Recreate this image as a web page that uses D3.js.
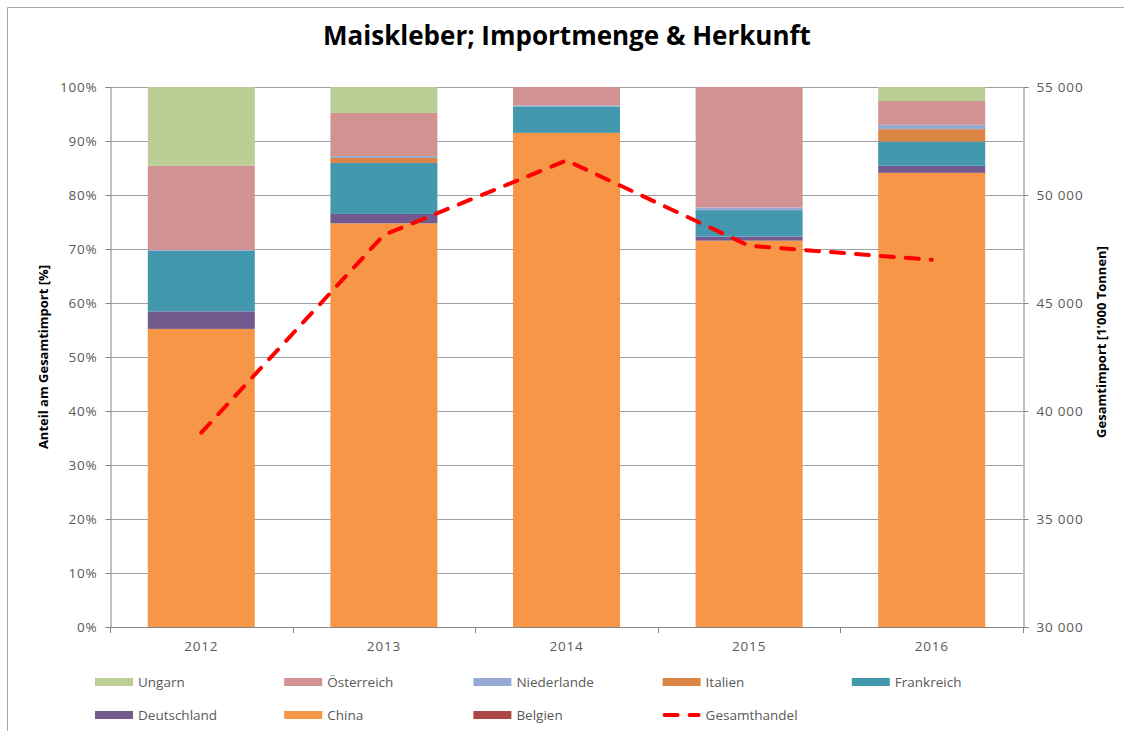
<!DOCTYPE html>
<html>
<head>
<meta charset="utf-8">
<script src="https://cdn.jsdelivr.net/npm/d3@7"></script>
<style>
  body { margin: 0; background: #fff; }
  svg text { font-family: "Open Sans", sans-serif; }
</style>
</head>
<body>
<svg id="chart" width="1124" height="731"></svg>
<script>
const years = ['2012', '2013', '2014', '2015', '2016'];

// stack order, bottom to top
const countries = ['Belgien', 'China', 'Deutschland', 'Frankreich', 'Italien', 'Niederlande', 'Österreich', 'Ungarn'];
const colors = ['#AA4644', '#F79646', '#725A8F', '#4398AE', '#DC8443', '#95A9D3', '#D39292', '#BACE96'];

// shares in %, one array per country, per year
const belgien     = [0, 0, 0, 0, 0];
const china       = [55.2, 74.75, 91.5, 71.55, 84.1];
const deutschland = [3.25, 1.75, 0, 0.75, 1.3];
const frankreich  = [11.2, 9.45, 4.9, 4.9, 4.5];
const italien     = [0, 0.9, 0, 0, 2.3];
const niederlande = [0.2, 0.35, 0.2, 0.5, 0.8];
const oesterreich = [15.55, 8.0, 3.4, 22.3, 4.4];
const ungarn      = [14.6, 4.8, 0, 0, 2.6];

// Gesamthandel in 1'000 Tonnen
const gesamthandel = [39000, 48150, 51600, 47650, 47000];

const pctTicks = [0, 10, 20, 30, 40, 50, 60, 70, 80, 90, 100];
const tonTicks = [30000, 35000, 40000, 45000, 50000, 55000];

const legendOrder = ['Ungarn', 'Österreich', 'Niederlande', 'Italien', 'Frankreich', 'Deutschland', 'China', 'Belgien', 'Gesamthandel'];

const shares = [belgien, china, deutschland, frankreich, italien, niederlande, oesterreich, ungarn];
const rows = years.map((y, i) => {
    const r = { year: y };
    countries.forEach((c, k) => r[c] = shares[k][i]);
    return r;
});

const svg = d3.select('#chart');
const plotLeft = 110, plotRight = 1023, plotTop = 87, plotBottom = 627;

// chart frame
svg.append('path')
    .attr('d', `M7.5,731 L7.5,7.5 L1124,7.5`)
    .attr('fill', 'none').attr('stroke', '#A6A6A6').attr('stroke-width', 1);

const xs = d3.scaleBand().domain(years).range([plotLeft, plotRight]).paddingInner(0.414).paddingOuter(0.207);
const xb = d3.scaleBand().domain(years).range([plotLeft, plotRight]);
const ys = d3.scaleLinear().domain([0, 100]).range([plotBottom, plotTop]);
const yr = d3.scaleLinear().domain([30000, 55000]).range([plotBottom, plotTop]);

// gridlines
svg.append('g')
    .selectAll('line')
    .data(pctTicks.slice(1))
    .enter()
    .append('line')
    .attr('x1', plotLeft).attr('x2', plotRight)
    .attr('y1', d => Math.round(ys(d)) + 0.5).attr('y2', d => Math.round(ys(d)) + 0.5)
    .attr('stroke', '#A0A0A0').attr('stroke-width', 1);

// stacked bars
const series = d3.stack().keys(countries)(rows);
svg.append('g')
    .selectAll('g')
    .data(series)
    .enter()
    .append('g')
    .attr('fill', (d, i) => colors[i])
    .selectAll('rect')
    .data(d => d)
    .enter()
    .append('rect')
    .attr('x', d => xs(d.data.year))
    .attr('width', xs.bandwidth())
    .attr('y', d => ys(d[1]))
    .attr('height', d => ys(d[0]) - ys(d[1]));

// left axis
const axL = svg.append('g').attr('transform', `translate(${plotLeft + 0.5},0)`)
    .call(d3.axisLeft(ys).tickValues(pctTicks).tickFormat(d => d + '%').tickSize(5).tickPadding(8));
// right axis
const axR = svg.append('g').attr('transform', `translate(${plotRight + 0.5},0)`)
    .call(d3.axisRight(yr).tickValues(tonTicks).tickFormat(d => d3.format(',')(d).replace(',', ' ')).tickSize(5).tickPadding(8));
// bottom axis
const axB = svg.append('g').attr('transform', `translate(0,${plotBottom + 0.5})`)
    .call(d3.axisBottom(xb).tickSize(0).tickPadding(14));
svg.append('g')
    .selectAll('line')
    .data(d3.range(years.length + 1))
    .enter()
    .append('line')
    .attr('x1', i => Math.round(plotLeft + i * xb.step()) + 0.5)
    .attr('x2', i => Math.round(plotLeft + i * xb.step()) + 0.5)
    .attr('y1', plotBottom).attr('y2', plotBottom + 6)
    .attr('stroke', '#868686');

[axL, axR, axB].forEach(ax => {
    ax.select('.domain').attr('stroke', '#868686');
    ax.selectAll('.tick line').attr('stroke', '#868686');
    ax.selectAll('.tick text').attr('fill', '#595959')
        .style('font-size', '13.5px').style('letter-spacing', '0.8px');
});
axB.select('.domain').attr('d', `M${plotLeft},0H${plotRight}`);

// Gesamthandel line
svg.append('path')
    .datum(gesamthandel)
    .attr('fill', 'none')
    .attr('stroke', '#FF0000')
    .attr('stroke-width', 4)
    .attr('stroke-linecap', 'round')
    .attr('stroke-dasharray', '13 12')
    .attr('d', d3.line().x((d, i) => xb(years[i]) + xb.bandwidth() / 2).y(d => yr(d)));

// title
svg.append('text')
    .attr('x', 567).attr('y', 45)
    .attr('text-anchor', 'middle')
    .style('font-size', '26px').style('font-weight', 'bold')
    .attr('fill', '#000')
    .text('Maiskleber; Importmenge & Herkunft');

// axis titles
svg.append('text')
    .attr('transform', 'translate(48,357) rotate(-90)')
    .attr('text-anchor', 'middle')
    .style('font-size', '13px').style('font-weight', 'bold')
    .text('Anteil am Gesamtimport [%]');
svg.append('text')
    .attr('transform', 'translate(1106,342) rotate(-90)')
    .attr('text-anchor', 'middle')
    .style('font-size', '13px').style('font-weight', 'bold')
    .text("Gesamtimport [1'000 Tonnen]");

// legend
const legend = svg.append('g')
    .selectAll('g')
    .data(legendOrder)
    .enter()
    .append('g')
    .attr('transform', (d, i) => `translate(${95 + (i % 5) * 189.2},${i < 5 ? 682 : 715})`);

legend.filter(d => d !== 'Gesamthandel')
    .append('rect')
    .attr('x', 0).attr('y', -4).attr('width', 38).attr('height', 8)
    .attr('fill', d => colors[countries.indexOf(d)]);
legend.filter(d => d === 'Gesamthandel')
    .append('line')
    .attr('x1', 2).attr('x2', 36).attr('y1', 0).attr('y2', 0)
    .attr('stroke', '#FF0000').attr('stroke-width', 4)
    .attr('stroke-linecap', 'round').attr('stroke-dasharray', '13 12');
legend.append('text')
    .attr('x', 43).attr('y', 0).attr('dy', '0.35em')
    .attr('fill', '#595959')
    .style('font-size', '13.5px')
    .text(d => d);
</script>
</body>
</html>
